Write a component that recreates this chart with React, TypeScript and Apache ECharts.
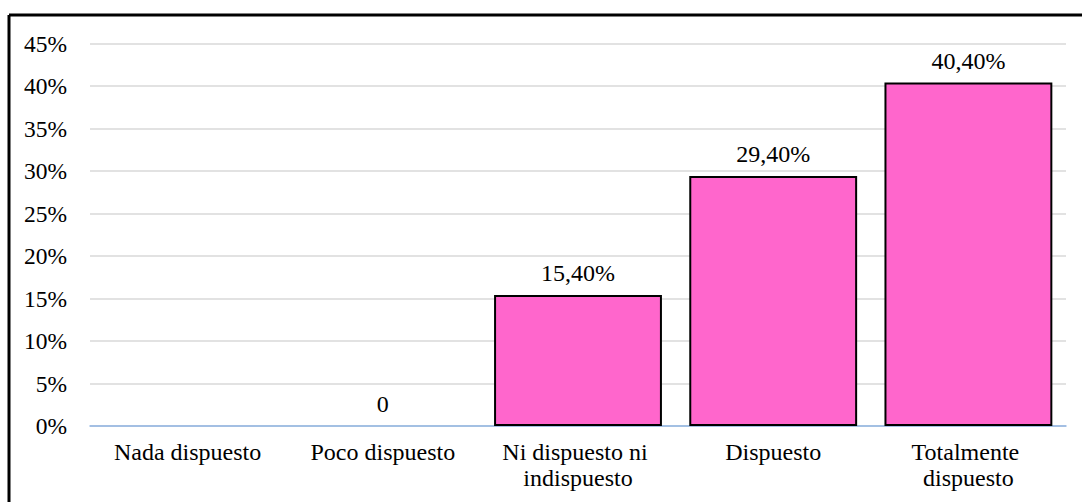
import React, { useEffect, useRef } from "react";
import * as echarts from "echarts";

const categories = [
  "Nada dispuesto",
  "Poco dispuesto",
  "Ni dispuesto ni indispuesto",
  "Dispuesto",
  "Totalmente dispuesto",
];
const values: (number | null)[] = [null, 0, 15.4, 29.4, 40.4];
const yTicks = [0, 5, 10, 15, 20, 25, 30, 35, 40, 45];

const FONT = "Liberation Serif";

export default function App() {
  const ref = useRef<HTMLDivElement>(null);
  useEffect(() => {
    if (!ref.current) return;
    const chart = echarts.init(ref.current, null, { renderer: "svg" });
    chart.setOption({
      animation: false,
      backgroundColor: "#ffffff",
      textStyle: { fontFamily: FONT },
      grid: { left: 90, right: 16, top: 43.5, bottom: 76, containLabel: false },
      graphic: [
        { type: "line", shape: { x1: 9, y1: 15, x2: 1082, y2: 15 }, style: { stroke: "#000", lineWidth: 3 } },
        { type: "line", shape: { x1: 9, y1: 15, x2: 9, y2: 502 }, style: { stroke: "#000", lineWidth: 3 } },
      ],
      xAxis: {
        type: "category",
        data: categories,
        axisLine: { show: true, lineStyle: { color: "#8EB4E3", width: 1.5 } },
        axisTick: { show: false },
        axisLabel: {
          interval: 0,
          color: "#000",
          fontFamily: FONT,
          fontSize: 24,
          lineHeight: 26,
          margin: 13,
          width: 170,
          overflow: "break",
        },
      },
      yAxis: {
        type: "value",
        min: yTicks[0],
        max: yTicks[yTicks.length - 1],
        interval: 5,
        axisLine: { show: false },
        axisTick: { show: false },
        splitLine: { lineStyle: { color: "#D9D9D9", width: 1.5 } },
        axisLabel: {
          color: "#000",
          fontFamily: FONT,
          fontSize: 23.5,
          margin: 23,
          formatter: (v: number) => `${v}%`,
        },
      },
      series: [
        {
          type: "bar",
          data: values.map((v) =>
            v === 0 ? { value: v, itemStyle: { borderWidth: 0 } } : v
          ),
          barWidth: "86%",
          z: 1,
          itemStyle: { color: "#FF66CC", borderColor: "#000", borderWidth: 2 },
          label: {
            show: true,
            position: "top",
            distance: 10,
            color: "#000",
            fontFamily: FONT,
            fontSize: 24,
            formatter: (p: any) =>
              p.value === 0 ? "0" : `${Number(p.value).toFixed(2).replace(".", ",")}%`,
          },
        },
      ],
    });
    return () => chart.dispose();
  }, []);
  return (
    <div
      ref={ref}
      style={{ position: "fixed", left: 0, top: 0, width: 1082, height: 502 }}
    />
  );
}
